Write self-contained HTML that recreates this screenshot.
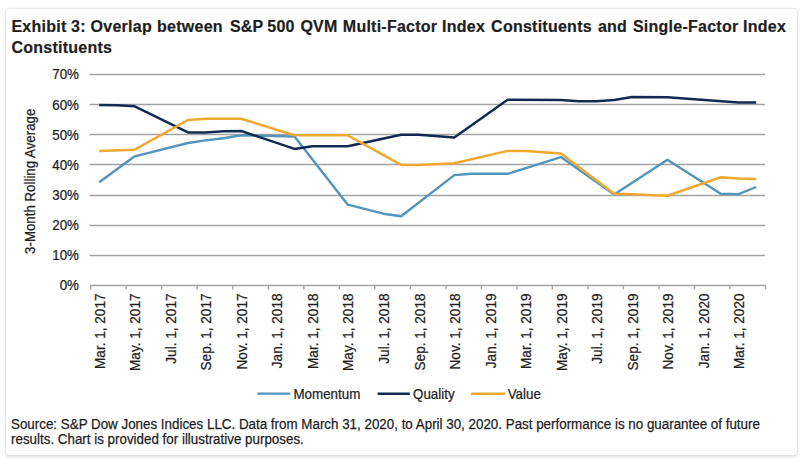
<!DOCTYPE html>
<html><head><meta charset="utf-8"><style>
html,body{margin:0;padding:0;background:#fff;width:811px;height:471px;overflow:hidden;}
.card{position:absolute;left:6px;top:9px;width:791px;height:446px;background:#fff;border-radius:3px;box-shadow:0 0 0 1px rgba(0,0,0,0.05),0 1.5px 4px rgba(0,0,0,0.13);}
.title{position:absolute;left:0;top:17px;font:bold 16px/19px "Liberation Sans",sans-serif;color:#1e1e1e;white-space:nowrap;letter-spacing:0.25px;-webkit-text-stroke:0.2px #1e1e1e;}
.title span{position:absolute;top:0;}
.src{position:absolute;left:11.4px;top:417.1px;font:14px/14.9px "Liberation Sans",sans-serif;color:#1e1e1e;white-space:nowrap;transform:scaleX(0.955);transform-origin:0 0;-webkit-text-stroke:0.25px #1e1e1e;}
svg{position:absolute;left:0;top:0;}
svg text{font-family:"Liberation Sans",sans-serif;font-size:14px;fill:#1e1e1e;stroke:#1e1e1e;stroke-width:0.25px;}
</style></head><body>
<div class="card"></div>
<div class="title"><span style="left:11.4px">Exhibit</span><span style="left:71.1px">3:</span><span style="left:90.6px">Overlap</span><span style="left:157.1px">between</span><span style="left:229.9px">S&amp;P</span><span style="left:267.3px">500</span><span style="left:300.4px">QVM</span><span style="left:342.8px">Multi-Factor</span><span style="left:442.0px">Index</span><span style="left:491.1px">Constituents</span><span style="left:597.9px">and</span><span style="left:632.9px">Single-Factor</span><span style="left:743.0px">Index</span><span style="left:11.4px;top:20.5px">Constituents</span></div>
<svg width="811" height="471" viewBox="0 0 811 471">
<line x1="89.5" y1="255.5" x2="765.1" y2="255.5" stroke="#a3a3a3" stroke-width="1.3"/><line x1="89.5" y1="225.5" x2="765.1" y2="225.5" stroke="#a3a3a3" stroke-width="1.3"/><line x1="89.5" y1="195.5" x2="765.1" y2="195.5" stroke="#a3a3a3" stroke-width="1.3"/><line x1="89.5" y1="164.5" x2="765.1" y2="164.5" stroke="#a3a3a3" stroke-width="1.3"/><line x1="89.5" y1="134.5" x2="765.1" y2="134.5" stroke="#a3a3a3" stroke-width="1.3"/><line x1="89.5" y1="104.5" x2="765.1" y2="104.5" stroke="#a3a3a3" stroke-width="1.3"/><line x1="89.5" y1="74.5" x2="765.1" y2="74.5" stroke="#a3a3a3" stroke-width="1.3"/><line x1="90.3" y1="285.5" x2="765.7" y2="285.5" stroke="#a4a4a4" stroke-width="1.4"/><line x1="90.7" y1="285.5" x2="90.7" y2="289.5" stroke="#a4a4a4" stroke-width="1.4"/><line x1="126.2" y1="285.5" x2="126.2" y2="289.5" stroke="#a4a4a4" stroke-width="1.4"/><line x1="161.7" y1="285.5" x2="161.7" y2="289.5" stroke="#a4a4a4" stroke-width="1.4"/><line x1="197.2" y1="285.5" x2="197.2" y2="289.5" stroke="#a4a4a4" stroke-width="1.4"/><line x1="232.8" y1="285.5" x2="232.8" y2="289.5" stroke="#a4a4a4" stroke-width="1.4"/><line x1="268.3" y1="285.5" x2="268.3" y2="289.5" stroke="#a4a4a4" stroke-width="1.4"/><line x1="303.8" y1="285.5" x2="303.8" y2="289.5" stroke="#a4a4a4" stroke-width="1.4"/><line x1="339.3" y1="285.5" x2="339.3" y2="289.5" stroke="#a4a4a4" stroke-width="1.4"/><line x1="374.8" y1="285.5" x2="374.8" y2="289.5" stroke="#a4a4a4" stroke-width="1.4"/><line x1="410.3" y1="285.5" x2="410.3" y2="289.5" stroke="#a4a4a4" stroke-width="1.4"/><line x1="445.9" y1="285.5" x2="445.9" y2="289.5" stroke="#a4a4a4" stroke-width="1.4"/><line x1="481.4" y1="285.5" x2="481.4" y2="289.5" stroke="#a4a4a4" stroke-width="1.4"/><line x1="516.9" y1="285.5" x2="516.9" y2="289.5" stroke="#a4a4a4" stroke-width="1.4"/><line x1="552.4" y1="285.5" x2="552.4" y2="289.5" stroke="#a4a4a4" stroke-width="1.4"/><line x1="587.9" y1="285.5" x2="587.9" y2="289.5" stroke="#a4a4a4" stroke-width="1.4"/><line x1="623.4" y1="285.5" x2="623.4" y2="289.5" stroke="#a4a4a4" stroke-width="1.4"/><line x1="659.0" y1="285.5" x2="659.0" y2="289.5" stroke="#a4a4a4" stroke-width="1.4"/><line x1="694.5" y1="285.5" x2="694.5" y2="289.5" stroke="#a4a4a4" stroke-width="1.4"/><line x1="730.0" y1="285.5" x2="730.0" y2="289.5" stroke="#a4a4a4" stroke-width="1.4"/><line x1="765.5" y1="285.5" x2="765.5" y2="289.5" stroke="#a4a4a4" stroke-width="1.4"/>
<polyline fill="none" stroke="#5394bd" stroke-width="2.4" stroke-linejoin="round" stroke-linecap="butt" points="99.2,182.3 134.7,156.3 188.0,143.0 205.7,140.4 223.5,138.2 241.2,135.3 294.5,136.5 347.8,204.7 383.3,213.7 401.1,216.2 454.3,175.1 472.1,173.8 507.6,173.8 560.9,157.1 614.2,194.5 667.4,159.8 720.7,193.8 738.5,194.1 756.2,187.0"/>
<polyline fill="none" stroke="#112a52" stroke-width="2.5" stroke-linejoin="round" stroke-linecap="butt" points="99.2,105.1 116.9,105.2 134.7,106.3 188.0,132.4 205.7,132.4 223.5,131.3 241.2,131.0 294.5,148.9 312.3,146.3 347.8,146.3 401.1,134.8 418.8,134.8 454.3,137.5 507.6,99.8 560.9,99.9 578.6,101.3 596.4,101.3 614.2,99.9 631.9,97.0 667.4,97.3 738.5,102.5 756.2,102.5"/>
<polyline fill="none" stroke="#efa930" stroke-width="2.5" stroke-linejoin="round" stroke-linecap="butt" points="99.2,151.1 134.7,149.7 188.0,120.0 205.7,118.7 241.2,118.7 294.5,135.3 347.8,135.3 401.1,164.9 418.8,165.0 454.3,163.3 507.6,150.9 525.4,150.9 560.9,153.5 614.2,193.8 631.9,194.3 667.4,195.8 720.7,177.2 738.5,178.5 756.2,178.9"/>
<text transform="translate(79.00,290.10) scale(0.955,1)" text-anchor="end">0%</text><text transform="translate(79.00,260.10) scale(0.955,1)" text-anchor="end">10%</text><text transform="translate(79.00,230.10) scale(0.955,1)" text-anchor="end">20%</text><text transform="translate(79.00,200.10) scale(0.955,1)" text-anchor="end">30%</text><text transform="translate(79.00,170.10) scale(0.955,1)" text-anchor="end">40%</text><text transform="translate(79.00,140.00) scale(0.955,1)" text-anchor="end">50%</text><text transform="translate(79.00,110.10) scale(0.955,1)" text-anchor="end">60%</text><text transform="translate(79.00,79.10) scale(0.955,1)" text-anchor="end">70%</text>
<text transform="translate(34.80,181.30) rotate(-90) scale(0.95,1)" text-anchor="middle">3-Month Rolling Average</text>
<text transform="translate(104.88,293.50) rotate(-90) scale(0.97,1)" text-anchor="end">Mar. 1, 2017</text><text transform="translate(140.39,293.50) rotate(-90) scale(0.97,1)" text-anchor="end">May. 1, 2017</text><text transform="translate(175.91,293.50) rotate(-90) scale(0.97,1)" text-anchor="end">Jul. 1, 2017</text><text transform="translate(211.43,293.50) rotate(-90) scale(0.97,1)" text-anchor="end">Sep. 1, 2017</text><text transform="translate(246.94,293.50) rotate(-90) scale(0.97,1)" text-anchor="end">Nov. 1, 2017</text><text transform="translate(282.46,293.50) rotate(-90) scale(0.97,1)" text-anchor="end">Jan. 1, 2018</text><text transform="translate(317.97,293.50) rotate(-90) scale(0.97,1)" text-anchor="end">Mar. 1, 2018</text><text transform="translate(353.49,293.50) rotate(-90) scale(0.97,1)" text-anchor="end">May. 1, 2018</text><text transform="translate(389.01,293.50) rotate(-90) scale(0.97,1)" text-anchor="end">Jul. 1, 2018</text><text transform="translate(424.52,293.50) rotate(-90) scale(0.97,1)" text-anchor="end">Sep. 1, 2018</text><text transform="translate(460.04,293.50) rotate(-90) scale(0.97,1)" text-anchor="end">Nov. 1, 2018</text><text transform="translate(495.55,293.50) rotate(-90) scale(0.97,1)" text-anchor="end">Jan. 1, 2019</text><text transform="translate(531.07,293.50) rotate(-90) scale(0.97,1)" text-anchor="end">Mar. 1, 2019</text><text transform="translate(566.58,293.50) rotate(-90) scale(0.97,1)" text-anchor="end">May. 1, 2019</text><text transform="translate(602.10,293.50) rotate(-90) scale(0.97,1)" text-anchor="end">Jul. 1, 2019</text><text transform="translate(637.62,293.50) rotate(-90) scale(0.97,1)" text-anchor="end">Sep. 1, 2019</text><text transform="translate(673.13,293.50) rotate(-90) scale(0.97,1)" text-anchor="end">Nov. 1, 2019</text><text transform="translate(708.65,293.50) rotate(-90) scale(0.97,1)" text-anchor="end">Jan. 1, 2020</text><text transform="translate(744.16,293.50) rotate(-90) scale(0.97,1)" text-anchor="end">Mar. 1, 2020</text>
<line x1="257.5" y1="393.7" x2="290.3" y2="393.7" stroke="#5394bd" stroke-width="2.3"/>
<text transform="translate(293.50,398.80) scale(0.955,1)">Momentum</text>
<line x1="377.6" y1="393.7" x2="409.8" y2="393.7" stroke="#112a52" stroke-width="2.4"/>
<text transform="translate(413.00,398.80) scale(0.955,1)">Quality</text>
<line x1="471" y1="393.7" x2="505" y2="393.7" stroke="#efa930" stroke-width="2.4"/>
<text transform="translate(507.70,398.80) scale(0.955,1)">Value</text>
</svg>
<div class="src">Source: S&amp;P Dow Jones Indices LLC. Data from March 31, 2020, to April 30, 2020. Past performance is no guarantee of future<br>results. Chart is provided for illustrative purposes.</div>
</body></html>
